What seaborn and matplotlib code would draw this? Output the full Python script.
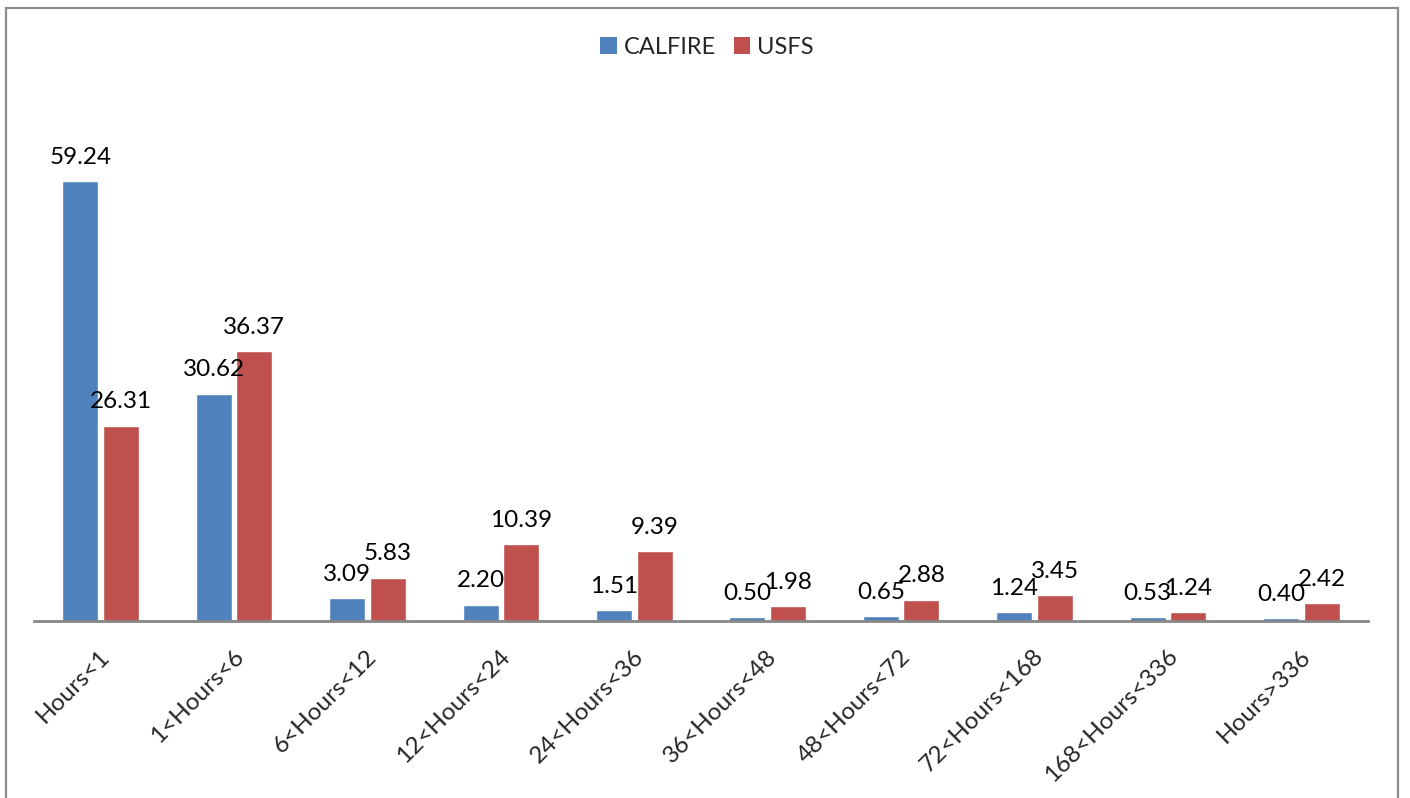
import matplotlib
matplotlib.use("Agg")
import matplotlib.pyplot as plt
import matplotlib.transforms as mtransforms
from matplotlib.patches import Rectangle, Patch
import seaborn as sns
import pandas as pd

# Share of fires by duration class, per agency (%)
categories = ["Hours<1", "1<Hours<6", "6<Hours<12", "12<Hours<24", "24<Hours<36",
              "36<Hours<48", "48<Hours<72", "72<Hours<168", "168<Hours<336", "Hours>336"]
calfire = [59.24, 30.62, 3.09, 2.20, 1.51, 0.50, 0.65, 1.24, 0.53, 0.40]
usfs = [26.31, 36.37, 5.83, 10.39, 9.39, 1.98, 2.88, 3.45, 1.24, 2.42]
series_names = ["CALFIRE", "USFS"]
colors = ["#4F81BD", "#C0504D"]

df = pd.DataFrame({
    "category": categories * 2,
    "value": calfire + usfs,
    "agency": [series_names[0]] * len(categories) + [series_names[1]] * len(categories),
})

sns.set_style("white")
plt.rcParams["font.family"] = ["Lato", "DejaVu Sans"]

W, H = 1410, 798
fig = plt.figure(figsize=(W / 100, H / 100), dpi=100)
ax = fig.add_axes([34 / W, 177 / H, 1334 / W, 520 / H])

sns.barplot(data=df, x="category", y="value", hue="agency", order=categories,
            hue_order=series_names, palette=colors, width=0.6075, gap=0.111,
            saturation=1, errorbar=None, legend=False, ax=ax)

ax.set_ylim(0, 70)
ax.set_xlim(-0.5, len(categories) - 0.5)
ax.set_xlabel("")
ax.set_ylabel("")
ax.set_yticks([])
for side in ["left", "right", "top"]:
    ax.spines[side].set_visible(False)
ax.spines["bottom"].set_color("#868686")
ax.spines["bottom"].set_linewidth(2)

for cont in ax.containers:
    ax.bar_label(cont, fmt="%.2f", padding=9.5, fontsize=17.5, color="black")

ax.tick_params(axis="x", length=0, pad=23, labelsize=17.5)
offset = mtransforms.ScaledTranslation(6 / 100, 0, fig.dpi_scale_trans)
for lbl in ax.get_xticklabels():
    lbl.set_rotation(45)
    lbl.set_ha("right")
    lbl.set_va("center")
    lbl.set_rotation_mode("anchor")
    lbl.set_transform(lbl.get_transform() + offset)

handles = [Patch(facecolor=c, edgecolor="none") for c in colors]
fig.legend(handles, series_names, loc="center", bbox_to_anchor=(707 / W, 1 - 47 / H),
           ncol=2, frameon=False, fontsize=17, handlelength=0.7, handleheight=0.7,
           handletextpad=0.3, columnspacing=0.75)

# chart area frame (open at the bottom)
fig.add_artist(Rectangle((6 / W, -0.05), (1398 - 6) / W, 1.05 - 8 / H,
                         transform=fig.transFigure, fill=False,
                         edgecolor="#8c8c8c", linewidth=1.6))

fig.savefig("out.png", dpi=100)
